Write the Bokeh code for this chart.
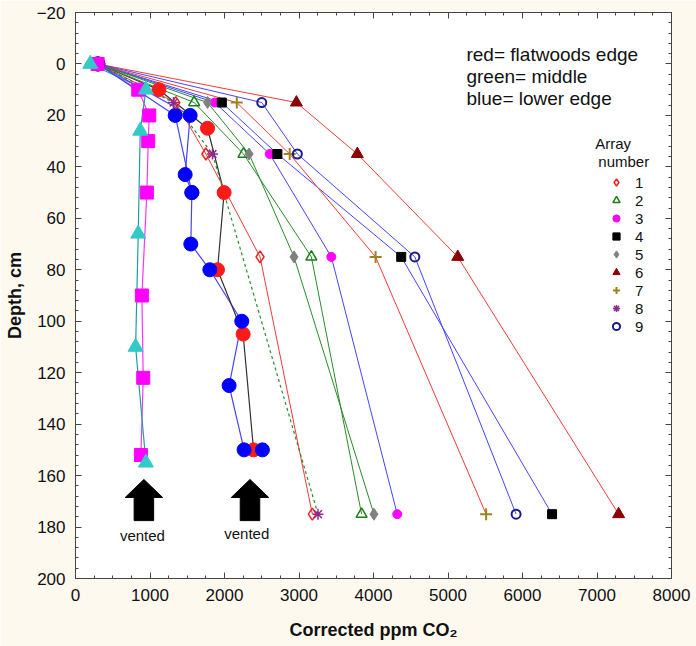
from bokeh.plotting import figure
from bokeh.models import Range1d, LinearAxis, Label, Legend, LegendItem, FixedTicker
from bokeh.embed import file_html
from bokeh.resources import INLINE

# ---------------- data ----------------
x_ticks = [0, 1000, 2000, 3000, 4000, 5000, 6000, 7000, 8000]
y_ticks = [-20, 0, 20, 40, 60, 80, 100, 120, 140, 160, 180, 200]

array_depths = [0, 15, 35, 75, 175]
array1 = [300, 1347, 1750, 2477, 3179]
array2 = [300, 1593, 2255, 3166, 3840]
array3 = [300, 1870, 2607, 3434, 4319]
array4 = [300, 1964, 2710, 4372, 6397]
array5 = [300, 1772, 2330, 2933, 4006]
array6 = [300, 2965, 3783, 5131, 7290]
array7 = [300, 2165, 2875, 4028, 5512]
array8_depths = [0, 15, 35, 175]
array8 = [300, 1316, 1839, 3255]
array9 = [300, 2500, 2978, 4555, 5914]

vent_sq_depths = [0, 10, 20, 30, 50, 90, 122, 152]
vent_sq = [297, 842, 990, 976, 958, 891, 909, 878]
vent_tri_depths = [0, 10, 26, 66, 110, 155]
vent_tri = [198, 945, 869, 842, 807, 945]
vent_blue_depths = [0, 20, 43, 50, 70, 80, 100, 125, 150]
vent_blue = [300, 1539, 1472, 1562, 1548, 1803, 2232, 2062, 2263]
vent_blue2_depths = [0, 20, 50]
vent_blue2 = [300, 1338, 1562]
vent_blue_extra_depths = [150]
vent_blue_extra = [2509]
vent_red_depths = [0, 10, 25, 50, 80, 105, 150]
vent_red = [300, 1120, 1772, 1995, 1906, 2250, 2390]

vented_arrow_x = [918, 2342]
legend_labels = ["1", "2", "3", "4", "5", "6", "7", "8", "9"]

# ---------------- styling ----------------
FONT = "Liberation Sans"
RED = "#f23a3a"
GREEN = "#2a8a2a"
BLUE = "#4444ff"
BG = "#fdf9ee"

p = figure(width=696, height=646,
           x_range=Range1d(0, 8000), y_range=Range1d(200, -20),
           output_backend="svg", toolbar_location=None,
           min_border_left=75, min_border_right=25,
           min_border_top=12, min_border_bottom=68)
p.background_fill_color = "white"
p.border_fill_color = BG
p.outline_line_color = "#444444"
p.grid.visible = False

xt = FixedTicker(ticks=x_ticks, minor_ticks=list(range(0, 8001, 250)))
yt = FixedTicker(ticks=y_ticks, minor_ticks=list(range(-20, 201, 4)))


def style_axis(ax, labels=True):
    ax.axis_line_color = "#444444"
    ax.major_tick_line_color = "#444444"
    ax.minor_tick_line_color = "#444444"
    ax.major_tick_in = 6
    ax.major_tick_out = 0
    ax.minor_tick_in = 3
    ax.minor_tick_out = 0
    ax.major_label_text_font = FONT
    if labels:
        ax.major_label_text_font_size = "17px"
        ax.major_label_text_color = "#111111"
    else:
        ax.major_label_text_font_size = "1px"
        ax.major_label_text_color = None
        ax.major_label_standoff = 0


p.xaxis.ticker = xt
p.yaxis.ticker = yt
style_axis(p.xaxis[0])
style_axis(p.yaxis[0])
p.xaxis.major_label_standoff = 10
p.yaxis.major_label_standoff = 10
p.xaxis.axis_label = "Corrected ppm CO\u2082"
p.yaxis.axis_label = "Depth, cm"
for ax in (p.xaxis[0], p.yaxis[0]):
    ax.axis_label_text_font = FONT
    ax.axis_label_text_font_size = "18px"
    ax.axis_label_text_font_style = "bold"
    ax.axis_label_text_color = "#111111"
p.xaxis.axis_label_standoff = 16
p.yaxis.axis_label_standoff = 9

top_ax = LinearAxis(ticker=xt)
style_axis(top_ax, labels=False)
p.add_layout(top_ax, "above")
right_ax = LinearAxis(ticker=yt)
style_axis(right_ax, labels=False)
p.add_layout(right_ax, "right")

# ---------------- vented arrows ----------------
head_half, shaft_half = 251, 131
tip_d, base_d, bottom_d = 161.5, 168.5, 177.5
xs_arrows, ys_arrows = [], []
for cx in vented_arrow_x:
    xs_arrows.append([cx, cx + head_half, cx + shaft_half, cx + shaft_half,
                      cx - shaft_half, cx - shaft_half, cx - head_half])
    ys_arrows.append([tip_d, base_d, base_d, bottom_d, bottom_d, base_d, base_d])
p.patches(xs_arrows, ys_arrows, fill_color="black", line_color="black")

# ---------------- lines ----------------
p.line(vent_sq, vent_sq_depths, line_color="#ff33ff", line_width=1.2)
p.line(vent_tri, vent_tri_depths, line_color="#1c9f9f", line_width=1.2)
p.line(vent_blue, vent_blue_depths, line_color=BLUE, line_width=1.2)
p.line(vent_blue2, vent_blue2_depths, line_color=BLUE, line_width=1.2)
p.line(vent_red, vent_red_depths, line_color="#333333", line_width=1.2)

p.line(array1, array_depths, line_color=RED, line_width=1)
p.line(array2, array_depths, line_color=GREEN, line_width=1)
p.line(array3, array_depths, line_color=BLUE, line_width=1)
p.line(array4, array_depths, line_color=BLUE, line_width=1)
p.line(array5, array_depths, line_color=GREEN, line_width=1)
p.line(array6, array_depths, line_color=RED, line_width=1)
p.line(array7, array_depths, line_color=RED, line_width=1)
p.line(array8, array8_depths, line_color=GREEN, line_width=1.2, line_dash="3 3")
p.line(array9, array_depths, line_color=BLUE, line_width=1)

# ---------------- markers ----------------
p.scatter(vent_red, vent_red_depths, marker="circle", size=14,
          fill_color="#ff1a1a", line_color="#ff1a1a")
p.scatter(vent_blue, vent_blue_depths, marker="circle", size=14,
          fill_color="#0000ff", line_color="#0000ff")
p.scatter(vent_blue2, vent_blue2_depths, marker="circle", size=14,
          fill_color="#0000ff", line_color="#0000ff")
p.scatter(vent_blue_extra, vent_blue_extra_depths, marker="circle", size=14,
          fill_color="#0000ff", line_color="#0000ff")

r1 = p.scatter(array1, array_depths, marker="diamond", size=12, fill_color=None,
               line_color="#ee2222", line_width=1.5)
r2 = p.scatter(array2, array_depths, marker="triangle", size=11, fill_color=None,
               line_color="#1a7f1a", line_width=1.5)
r3 = p.scatter(array3, array_depths, marker="circle", size=9, fill_color="#ff00ff",
               line_color="#ff00ff")
r4 = p.scatter(array4, array_depths, marker="square", size=9, fill_color="black",
               line_color="black")
r5 = p.scatter(array5, array_depths, marker="diamond", size=12, fill_color="#808080",
               line_color="#808080")
r6 = p.scatter(array6, array_depths, marker="triangle", size=12, fill_color="#8b0000",
               line_color="#8b0000")
r7 = p.scatter(array7, array_depths, marker="cross", size=12, line_color="#9a8420",
               line_width=2)
r8 = p.scatter(array8, array8_depths, marker="asterisk", size=11, line_color="#8e2a8e",
               line_width=1.5)
r9 = p.scatter(array9, array_depths, marker="circle", size=9, fill_color=None,
               line_color="#1a1a8c", line_width=2)

p.scatter(vent_sq, vent_sq_depths, marker="square", size=13,
          fill_color="#ff00ff", line_color="#ff00ff")
p.scatter(vent_tri, vent_tri_depths, marker="triangle", size=15,
          fill_color="#33c9c9", line_color="#33c9c9")

# ---------------- legend ----------------
renderers = [r1, r2, r3, r4, r5, r6, r7, r8, r9]
legend = Legend(items=[LegendItem(label=lab, renderers=[r])
                       for lab, r in zip(legend_labels, renderers)],
                location=(530, 243), orientation="vertical",
                border_line_color=None, background_fill_alpha=0,
                label_text_font=FONT, label_text_font_size="15px",
                label_text_color="#111111",
                glyph_width=22, glyph_height=18, label_height=18,
                spacing=0, padding=0, margin=0, label_standoff=8)
p.add_layout(legend)

for txt, lx, ly in [("Array", 6977, 31.1), ("number", 7018, 38.1)]:
    p.add_layout(Label(x=lx, y=ly, text=txt, text_font=FONT, text_font_size="15px",
                       text_baseline="middle", text_align="left", text_color="#111111"))

for txt, ly in [("red= flatwoods edge", -3.8), ("green= middle", 5.0),
                ("blue= lower edge", 13.3)]:
    p.add_layout(Label(x=5248, y=ly, text=txt, text_font=FONT, text_font_size="19px",
                       text_baseline="middle", text_align="left", text_color="#111111"))

for cx, ly in zip([898, 2299], [183.3, 182.5]):
    p.add_layout(Label(x=cx, y=ly, text="vented", text_font=FONT, text_font_size="15px",
                       text_baseline="middle", text_align="center", text_color="#111111"))

open("out.html", "w").write(file_html(p, INLINE))
